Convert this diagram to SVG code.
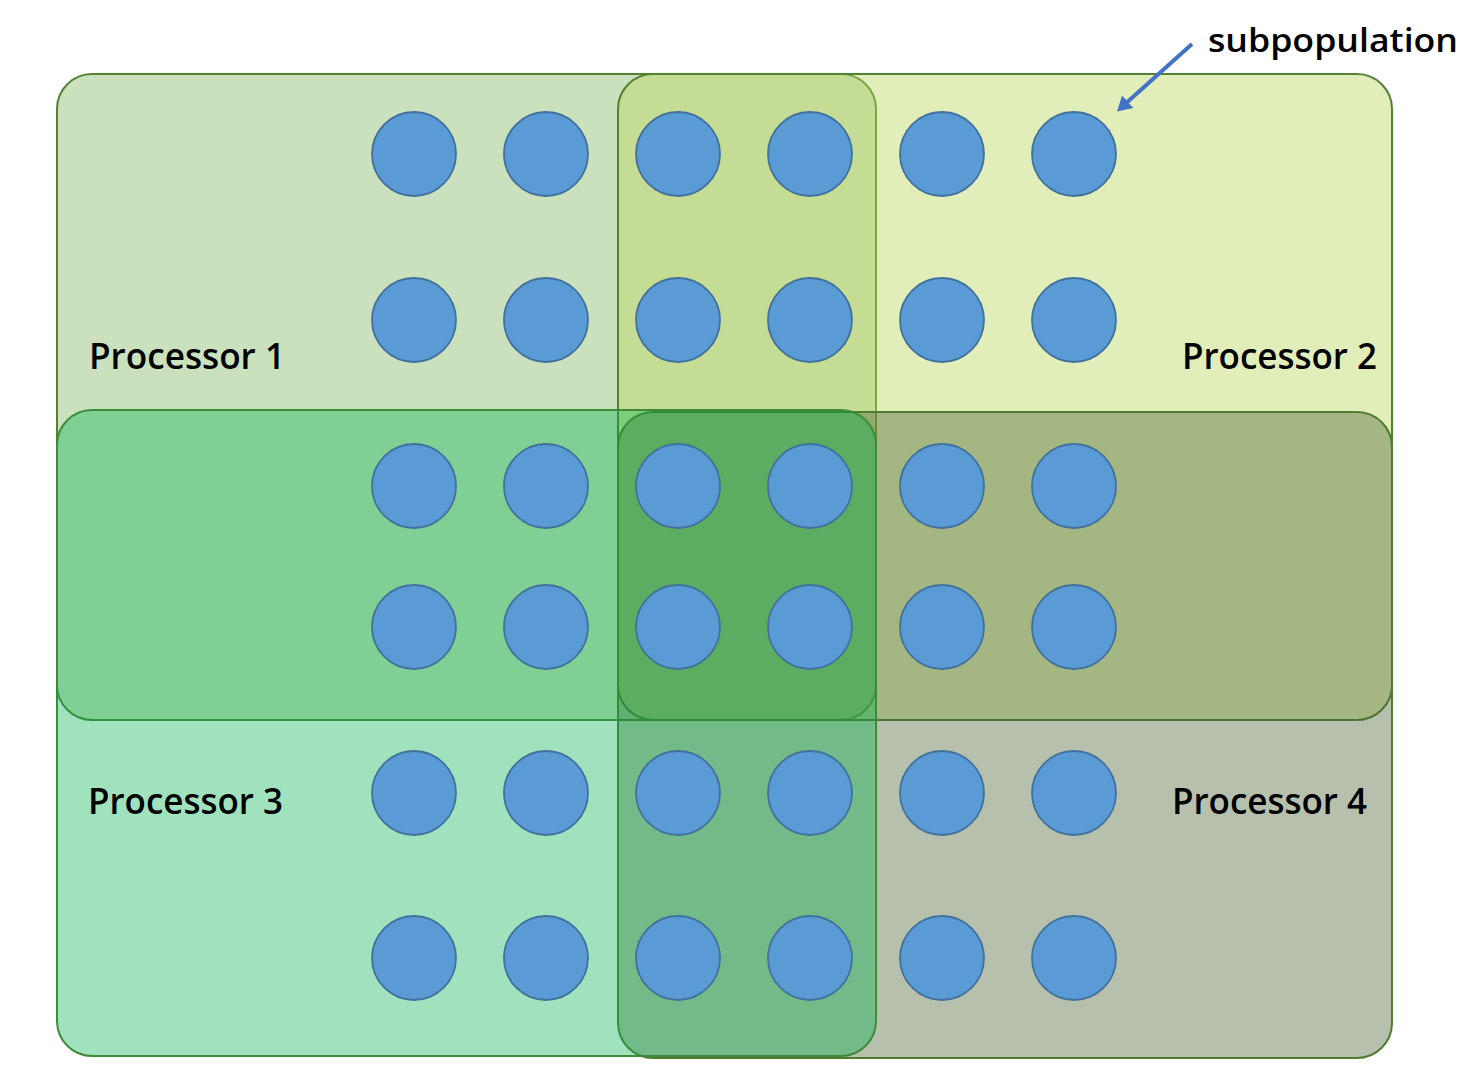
<svg xmlns="http://www.w3.org/2000/svg" width="1469" height="1066" viewBox="0 0 1469 1066">
<style>
.proc{stroke-width:2}
.sub{fill:#5B9BD5;stroke:#41719C;stroke-width:1.8}
.lbl{font-family:"Open Sans","Liberation Sans",sans-serif;font-weight:600;font-size:36px;fill:#000}
.ann{font-family:"Open Sans","Liberation Sans",sans-serif;font-weight:600;font-size:33px;fill:#000}
</style>
<defs>
<marker id="ah" markerWidth="15" markerHeight="18" refX="0.5" refY="8.5" orient="auto" markerUnits="userSpaceOnUse" viewBox="0 0 15 17">
<path d="M0,0 L14.5,8.5 L0,17 z" fill="#4472C4"/>
</marker>
</defs>
<rect x="0" y="0" width="1469" height="1066" fill="#fff"/>
<g id="processor1">
<rect class="proc" x="57" y="74" width="819" height="646" rx="35" fill="#70AD47" fill-opacity="0.36" stroke="#538135"/>
<text class="lbl" x="89" y="369" textLength="196" lengthAdjust="spacingAndGlyphs">Processor 1</text>
</g>
<g id="processor2">
<rect class="proc" x="618" y="74" width="774" height="646" rx="35" fill="#BAD75B" fill-opacity="0.42" stroke="#538135"/>
<text class="lbl" x="1182" y="369" textLength="195" lengthAdjust="spacingAndGlyphs">Processor 2</text>
</g>
<g id="processor4">
<rect class="proc" x="618" y="412" width="774" height="646" rx="35" fill="#496230" fill-opacity="0.4" stroke="#507A30"/>
<text class="lbl" x="1172" y="814" textLength="195" lengthAdjust="spacingAndGlyphs">Processor 4</text>
</g>
<g id="processor3">
<rect class="proc" x="57" y="410" width="819" height="646" rx="35" fill="#00B050" fill-opacity="0.37" stroke="#3F8A38"/>
<text class="lbl" x="88" y="814" textLength="195" lengthAdjust="spacingAndGlyphs">Processor 3</text>
</g>
<g id="subpopulations">
<g id="s1-1"><circle class="sub" cx="414" cy="154" r="42"/></g>
<g id="s1-2"><circle class="sub" cx="546" cy="154" r="42"/></g>
<g id="s1-3"><circle class="sub" cx="678" cy="154" r="42"/></g>
<g id="s1-4"><circle class="sub" cx="810" cy="154" r="42"/></g>
<g id="s1-5"><circle class="sub" cx="942" cy="154" r="42"/></g>
<g id="s1-6"><circle class="sub" cx="1074" cy="154" r="42"/></g>
<g id="s2-1"><circle class="sub" cx="414" cy="320" r="42"/></g>
<g id="s2-2"><circle class="sub" cx="546" cy="320" r="42"/></g>
<g id="s2-3"><circle class="sub" cx="678" cy="320" r="42"/></g>
<g id="s2-4"><circle class="sub" cx="810" cy="320" r="42"/></g>
<g id="s2-5"><circle class="sub" cx="942" cy="320" r="42"/></g>
<g id="s2-6"><circle class="sub" cx="1074" cy="320" r="42"/></g>
<g id="s3-1"><circle class="sub" cx="414" cy="486" r="42"/></g>
<g id="s3-2"><circle class="sub" cx="546" cy="486" r="42"/></g>
<g id="s3-3"><circle class="sub" cx="678" cy="486" r="42"/></g>
<g id="s3-4"><circle class="sub" cx="810" cy="486" r="42"/></g>
<g id="s3-5"><circle class="sub" cx="942" cy="486" r="42"/></g>
<g id="s3-6"><circle class="sub" cx="1074" cy="486" r="42"/></g>
<g id="s4-1"><circle class="sub" cx="414" cy="627" r="42"/></g>
<g id="s4-2"><circle class="sub" cx="546" cy="627" r="42"/></g>
<g id="s4-3"><circle class="sub" cx="678" cy="627" r="42"/></g>
<g id="s4-4"><circle class="sub" cx="810" cy="627" r="42"/></g>
<g id="s4-5"><circle class="sub" cx="942" cy="627" r="42"/></g>
<g id="s4-6"><circle class="sub" cx="1074" cy="627" r="42"/></g>
<g id="s5-1"><circle class="sub" cx="414" cy="793" r="42"/></g>
<g id="s5-2"><circle class="sub" cx="546" cy="793" r="42"/></g>
<g id="s5-3"><circle class="sub" cx="678" cy="793" r="42"/></g>
<g id="s5-4"><circle class="sub" cx="810" cy="793" r="42"/></g>
<g id="s5-5"><circle class="sub" cx="942" cy="793" r="42"/></g>
<g id="s5-6"><circle class="sub" cx="1074" cy="793" r="42"/></g>
<g id="s6-1"><circle class="sub" cx="414" cy="958" r="42"/></g>
<g id="s6-2"><circle class="sub" cx="546" cy="958" r="42"/></g>
<g id="s6-3"><circle class="sub" cx="678" cy="958" r="42"/></g>
<g id="s6-4"><circle class="sub" cx="810" cy="958" r="42"/></g>
<g id="s6-5"><circle class="sub" cx="942" cy="958" r="42"/></g>
<g id="s6-6"><circle class="sub" cx="1074" cy="958" r="42"/></g>
</g>
<g id="label-subpopulation">
<text class="ann" x="1208" y="52" textLength="250" lengthAdjust="spacingAndGlyphs">subpopulation</text>
</g>
<g id="connectors">
<line x1="1192" y1="44" x2="1127.4" y2="102.1" stroke="#4472C4" stroke-width="4" marker-end="url(#ah)"/>
</g>
</svg>
